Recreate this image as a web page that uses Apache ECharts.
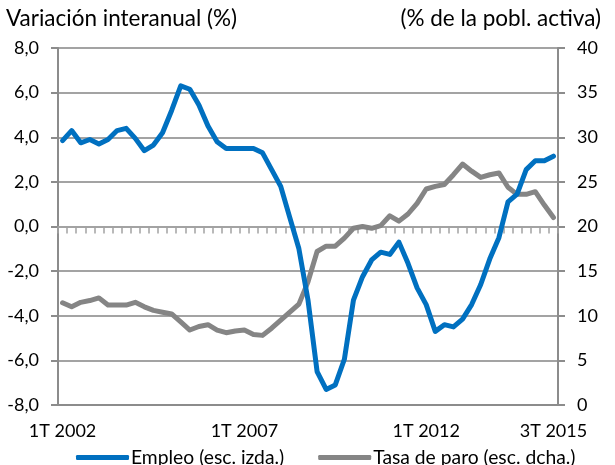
<!DOCTYPE html>
<html>
<head>
<meta charset="utf-8">
<script src="https://cdn.jsdelivr.net/npm/echarts@6/dist/echarts.min.js"></script>
<style>
html,body{margin:0;padding:0;background:#fff;}
#chart{width:615px;height:465px;}
</style>
</head>
<body>
<div id="chart"></div>
<script>
// Quarterly categories 1T 2002 .. 3T 2015
const years = [2002,2003,2004,2005,2006,2007,2008,2009,2010,2011,2012,2013,2014,2015];
const categories = [];
years.forEach(y => { for (let q = 1; q <= 4; q++) { if (y === 2015 && q > 3) break; categories.push(q + 'T ' + y); } });

const labelledCategories = ['1T 2002', '1T 2007', '1T 2012', '3T 2015'];

// Empleo, variación interanual (%) — left axis
const empleo = [
  3.85, 4.3, 3.75, 3.9, 3.7, 3.9, 4.3, 4.4,
  3.95, 3.4, 3.65, 4.2, 5.2, 6.3, 6.15, 5.45,
  4.5, 3.8, 3.5, 3.5, 3.5, 3.5, 3.3, 2.55,
  1.8, 0.4, -1.0, -3.3, -6.5, -7.3, -7.1, -5.95,
  -3.3, -2.25, -1.5, -1.15, -1.25, -0.7, -1.65, -2.75,
  -3.5, -4.7, -4.4, -4.5, -4.15, -3.5, -2.6, -1.45,
  -0.5, 1.1, 1.45, 2.55, 2.95, 2.95, 3.15
];

// Tasa de paro (% de la población activa) — right axis
const paro = [
  11.45, 11.0, 11.5, 11.7, 12.0, 11.2, 11.2, 11.2,
  11.5, 11.0, 10.6, 10.4, 10.2, 9.3, 8.4, 8.8,
  9.0, 8.4, 8.1, 8.3, 8.4, 7.9, 7.8, 8.6,
  9.5, 10.4, 11.3, 13.8, 17.2, 17.8, 17.8, 18.7,
  19.8, 20.0, 19.8, 20.1, 21.2, 20.6, 21.4, 22.6,
  24.2, 24.5, 24.7, 25.8, 27.0, 26.2, 25.5, 25.8,
  26.0, 24.4, 23.6, 23.6, 23.9, 22.4, 21.0
];

const leftTicks = {min: -8, max: 8, interval: 2};
const rightTicks = {min: 0, max: 40, interval: 5};
const leftTitle = 'Variación interanual (%)';
const rightTitle = '(% de la pobl. activa)';

const FONT = 'Lato';
const GRID_COLOR = '#a3a3a3';
const AXIS_COLOR = '#8c8c8c';
const BLUE = '#0070c0';
const GREY = '#858585';

const chart = echarts.init(document.getElementById('chart'), null, {renderer: 'canvas'});

const option = {
  animation: false,
  backgroundColor: '#fff',
  textStyle: {fontFamily: FONT},
  grid: {left: 58, right: 57, top: 48, bottom: 60, containLabel: false},
  graphic: [
    {type: 'text', left: 6, top: 7, style: {text: leftTitle, font: '22.5px ' + FONT, fill: '#000'}},
    {type: 'text', right: 14, top: 7, style: {text: rightTitle, font: '22.5px ' + FONT, fill: '#000'}}
  ],
  legend: {
    left: 71, top: 443,
    itemWidth: 53, itemHeight: 5, itemGap: 34,
    icon: 'roundRect',
    textStyle: {fontFamily: FONT, fontSize: 19.3, color: '#000', padding: [0, 0, 0, -3]},
    data: ['Empleo (esc. izda.)', 'Tasa de paro (esc. dcha.)']
  },
  xAxis: [
    {
      type: 'category', data: categories, boundaryGap: true, position: 'bottom',
      axisLine: {onZero: false, lineStyle: {color: AXIS_COLOR, width: 2}},
      axisTick: {show: false},
      axisLabel: {
        fontFamily: FONT, fontSize: 18, color: '#000', margin: 17,
        interval: (idx, val) => labelledCategories.includes(val)
      },
      splitLine: {show: false}
    },
    {
      type: 'category', data: categories, boundaryGap: true, position: 'top',
      axisLine: {show: true, onZero: true, onZeroAxisIndex: 0, lineStyle: {color: GRID_COLOR, width: 2}},
      axisTick: {show: true, inside: true, interval: 0, length: 7, lineStyle: {color: GRID_COLOR, width: 1.5}},
      axisLabel: {show: false},
      splitLine: {show: false}
    }
  ],
  yAxis: [
    {
      type: 'value', position: 'left', min: leftTicks.min, max: leftTicks.max, interval: leftTicks.interval,
      axisLine: {show: true, lineStyle: {color: AXIS_COLOR, width: 2}},
      axisTick: {show: true, length: 7, lineStyle: {color: AXIS_COLOR, width: 2}},
      axisLabel: {
        fontFamily: FONT, fontSize: 18, color: '#000', margin: 19,
        formatter: v => v.toFixed(1).replace('.', ',')
      },
      splitLine: {show: true, lineStyle: {color: GRID_COLOR, width: 2}}
    },
    {
      type: 'value', position: 'right', min: rightTicks.min, max: rightTicks.max, interval: rightTicks.interval,
      axisLine: {show: true, lineStyle: {color: AXIS_COLOR, width: 2}},
      axisTick: {show: true, length: 7, lineStyle: {color: AXIS_COLOR, width: 2}},
      axisLabel: {fontFamily: FONT, fontSize: 18, color: '#000', margin: 19},
      splitLine: {show: false}
    }
  ],
  series: [
    {
      name: 'Empleo (esc. izda.)', type: 'line', xAxisIndex: 0, yAxisIndex: 0, data: empleo,
      symbol: 'none', smooth: false, z: 3,
      lineStyle: {color: BLUE, width: 5, cap: 'round', join: 'round'},
      itemStyle: {color: BLUE}
    },
    {
      name: 'Tasa de paro (esc. dcha.)', type: 'line', xAxisIndex: 0, yAxisIndex: 1, data: paro,
      symbol: 'none', smooth: false, z: 2,
      lineStyle: {color: GREY, width: 5, cap: 'round', join: 'round'},
      itemStyle: {color: GREY}
    }
  ]
};

chart.setOption(option);
</script>
</body>
</html>
